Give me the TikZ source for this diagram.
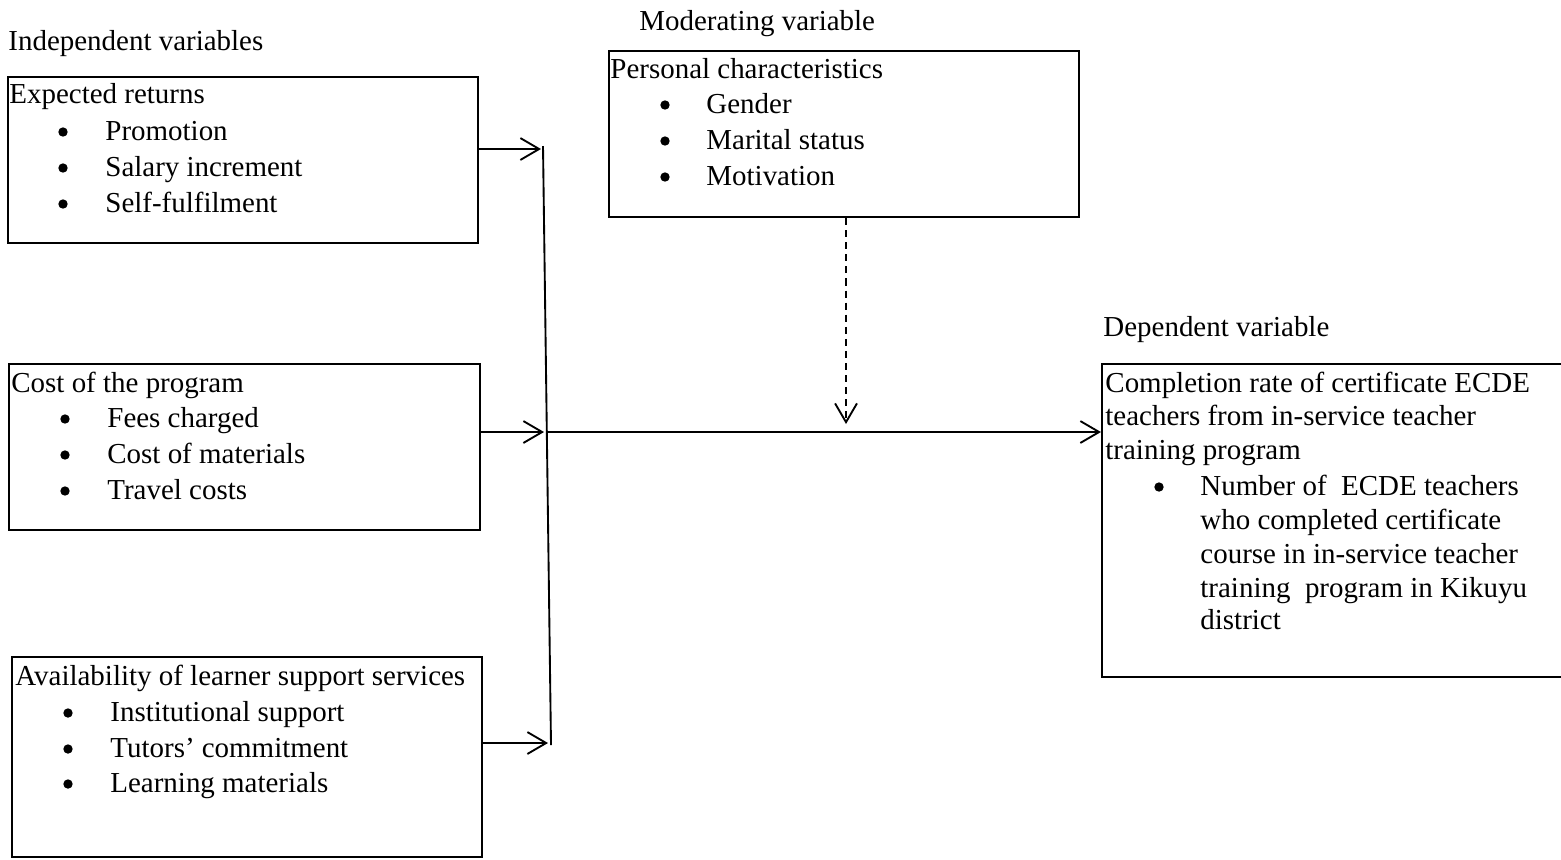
\documentclass[tikz,border=0pt]{standalone}
\usepackage{fontspec}
\setmainfont{Liberation Serif}
\usetikzlibrary{arrows.meta,fit}
\begin{document}
\begin{tikzpicture}[x=0.48pt,y=-0.48pt,
  box/.style={draw,line width=1pt,rectangle,inner sep=0pt},
  txt/.style={anchor=base west,inner sep=0pt,font=\fontsize{13.9}{16}\selectfont},
  blt/.style={circle,fill,inner sep=0pt,minimum size=4.5pt},
  conn/.style={line width=0.9pt,-{Straight Barb[length=9pt,width=10.5pt,line width=0.9pt]}},
  dconn/.style={conn,dash pattern=on 3.4pt off 2.4pt},
  plain/.style={line width=0.9pt}
]
\useasboundingbox (0,0) rectangle (1561,859);
\clip (0,0) rectangle (1561,859);

% headings
\node[txt] (hind) at (8,50) {Independent variables};
\node[txt] (hmod) at (639,30) {Moderating variable};
\node[txt] (hdep) at (1103,336) {Dependent variable};

% boxes
\node[box,fit={(8,77) (478,243)}] (b1) {};
\node[box,fit={(9,364) (480,530)}] (b2) {};
\node[box,fit={(12,657) (482,857)}] (b3) {};
\node[box,fit={(609,51) (1079,217)}] (bm) {};
\node[box,fit={(1102,364) (1575,677)}] (bd) {};

% box 1 text
\node[txt] (b1h) at (9,103) {Expected returns};
\node[blt] (b1a) at (63,132) {};
\node[txt] (b1at) at (105,140) {Promotion};
\node[blt] (b1b) at (63,168) {};
\node[txt] (b1bt) at (105,176) {Salary increment};
\node[blt] (b1c) at (63,204) {};
\node[txt] (b1ct) at (105,212) {Self-fulfilment};

% box 2 text
\node[txt] (b2h) at (11,392) {Cost of the program};
\node[blt] (b2a) at (65,419) {};
\node[txt] (b2at) at (107,427) {Fees charged};
\node[blt] (b2b) at (65,455) {};
\node[txt] (b2bt) at (107,463) {Cost of materials};
\node[blt] (b2c) at (65,491) {};
\node[txt] (b2ct) at (107,499) {Travel costs};

% box 3 text
\node[txt] (b3h) at (15,685) {Availability of learner support services};
\node[blt] (b3a) at (68,713) {};
\node[txt] (b3at) at (110,721) {Institutional support};
\node[blt] (b3b) at (68,749) {};
\node[txt] (b3bt) at (110,757) {Tutors’ commitment};
\node[blt] (b3c) at (68,784) {};
\node[txt] (b3ct) at (110,792) {Learning materials};

% moderating text
\node[txt] (bmh) at (610,78) {Personal characteristics};
\node[blt] (bma) at (665,105) {};
\node[txt] (bmat) at (706,113) {Gender};
\node[blt] (bmb) at (665,141) {};
\node[txt] (bmbt) at (706,149) {Marital status};
\node[blt] (bmc) at (665,177) {};
\node[txt] (bmct) at (706,185) {Motivation};

% dependent text
\node[txt] (bdh1) at (1105,392) {Completion rate of certificate ECDE};
\node[txt] (bdh2) at (1105,425) {teachers from in-service teacher};
\node[txt] (bdh3) at (1105,459) {training program};
\node[blt] (bda) at (1159,487) {};
\node[txt] (bdl1) at (1200,495) {Number of\ \ ECDE teachers};
\node[txt] (bdl2) at (1200,529) {who completed certificate};
\node[txt] (bdl3) at (1200,563) {course in in-service teacher};
\node[txt] (bdl4) at (1200,597) {training\ \ program in Kikuyu};
\node[txt] (bdl5) at (1200,629) {district};

% connectors
\coordinate (vt) at (543,146);
\coordinate (vb) at (551,745);
\coordinate (vm) at (547,432);
\coordinate (a1) at (541,149);
\coordinate (a2) at (544,432);
\coordinate (a3) at (548,743);
\coordinate (dt) at (846,424);

\draw[plain] (vt) -- (vb);
\draw[conn] (b1.east |- a1) -- (a1);
\draw[conn] (b2.east |- a2) -- (a2);
\draw[conn] (b3.east |- a3) -- (a3);
\draw[conn] (vm) -- (bd.west |- vm);
\draw[dconn] (bm.south -| dt) -- (dt);
\end{tikzpicture}
\end{document}
